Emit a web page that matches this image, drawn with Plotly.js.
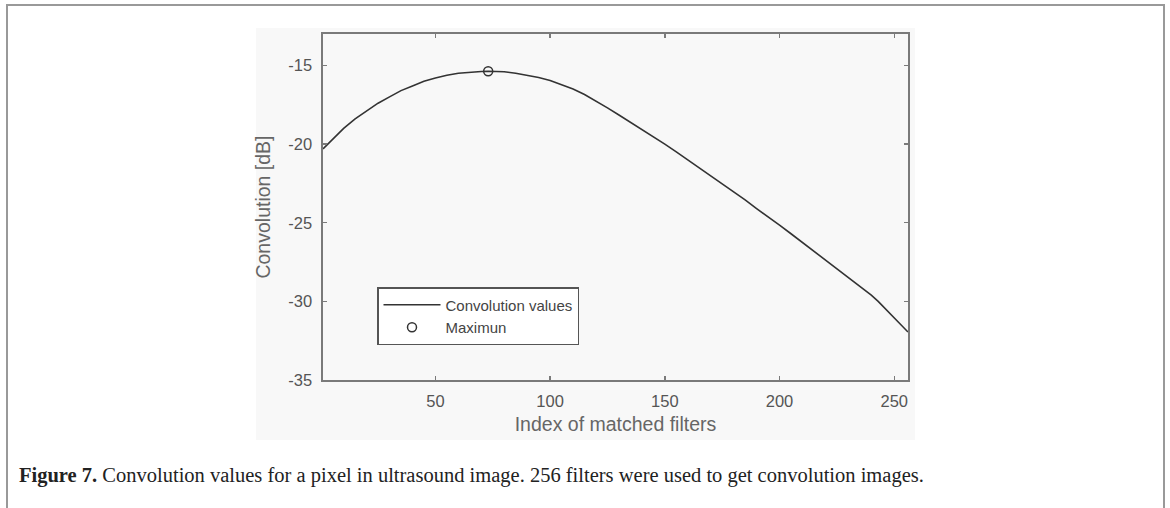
<!DOCTYPE html>
<html>
<head>
<meta charset="utf-8">
<script src="https://cdn.plot.ly/plotly-3.0.1.min.js"></script>
<style>
  html, body { margin: 0; padding: 0; background: #ffffff; }
  #chart { width: 1170px; height: 508px; }
</style>
</head>
<body>
<div id="chart"></div>
<script>
// Convolution response per matched filter (dB)
const filterIndex = [1, 5, 10, 15, 20, 25, 30, 35, 40, 45, 50, 55, 60, 65, 70, 73, 75, 80, 85, 90,
  95, 100, 105, 110, 115, 120, 125, 130, 135, 140, 145, 150, 155, 160, 165, 170, 175, 180, 185, 190,
  195, 200, 205, 210, 215, 220, 225, 230, 235, 240, 243, 245, 250, 255, 256];
const convolutionDb = [-20.3, -19.7, -19.0, -18.4, -17.9, -17.4, -17.0, -16.6, -16.3, -16.0, -15.8, -15.62, -15.5, -15.42, -15.38, -15.37, -15.37, -15.4, -15.5, -15.62,
  -15.77, -15.95, -16.2, -16.5, -16.85, -17.25, -17.7, -18.15, -18.6, -19.05, -19.5, -20.0, -20.5, -21.0, -21.5, -22.0, -22.5, -23.05, -23.55, -24.1,
  -24.6, -25.15, -25.7, -26.25, -26.8, -27.35, -27.9, -28.45, -29.0, -29.6, -30.0, -30.3, -31.05, -31.8, -31.95];

// Location of the maximum
const maxIndex = [73];
const maxValue = [-15.37];

const xTicks = [50, 100, 150, 200, 250];
const yTicks = [-35, -30, -25, -20, -15];
const xRange = [1, 256];
const yRange = [-35, -13];

const captionBold = 'Figure 7.';
const captionText = ' Convolution values for a pixel in ultrasound image. 256 filters were used to get convolution images.';

const W = 1170, H = 508;
const M = { l: 323, r: 262, t: 34, b: 128 };
const PW = W - M.l - M.r, PH = H - M.t - M.b;
// pixel -> paper coordinates helpers for the surrounding frame
const px = v => (v - M.l) / PW;
const py = v => (H - M.b - v) / PH;

const sans = 'Liberation Sans, Arial, sans-serif';

const axisCommon = {
  showgrid: false,
  zeroline: false,
  showline: true,
  linecolor: '#7a7a7a',
  linewidth: 1.6,
  mirror: 'ticks',
  ticks: 'inside',
  ticklen: 4,
  tickwidth: 1.4,
  tickcolor: '#7a7a7a',
  tickfont: { family: sans, size: 16.5, color: '#555555' }
};

const traces = [
  {
    x: filterIndex, y: convolutionDb,
    type: 'scatter', mode: 'lines',
    name: 'Convolution values',
    line: { color: '#333333', width: 1.6 }
  },
  {
    x: maxIndex, y: maxValue,
    type: 'scatter', mode: 'markers',
    name: 'Maximun',
    marker: { symbol: 'circle-open', size: 9, color: '#333333', line: { width: 1.5, color: '#333333' } }
  }
];

const layout = {
  width: W, height: H,
  margin: M,
  paper_bgcolor: '#ffffff',
  plot_bgcolor: '#ffffff',
  showlegend: true,
  legend: {
    x: px(377), y: py(287), xanchor: 'left', yanchor: 'top',
    bgcolor: '#ffffff', bordercolor: '#555555', borderwidth: 1.5,
    itemwidth: 57,
    tracegroupgap: 0,
    font: { family: sans, size: 15, color: '#444444' }
  },
  xaxis: Object.assign({}, axisCommon, {
    range: xRange, tickvals: xTicks, ticktext: xTicks.map(String),
    ticklabelstandoff: 6,
    title: { text: 'Index of matched filters', standoff: 8,
      font: { family: sans, size: 19.5, color: '#666666' } }
  }),
  yaxis: Object.assign({}, axisCommon, {
    range: yRange, tickvals: yTicks, ticktext: yTicks.map(String),
    ticklabelstandoff: 6,
    title: { text: 'Convolution [dB]', standoff: 12,
      font: { family: sans, size: 19.5, color: '#666666' } }
  }),
  shapes: [
    // light backdrop behind the plot panel
    { type: 'rect', xref: 'paper', yref: 'paper', layer: 'below',
      x0: px(256), x1: px(915), y0: py(440), y1: py(28),
      fillcolor: '#f8f8f8', line: { width: 0 } },
    // figure frame: left, top, right
    { type: 'line', xref: 'paper', yref: 'paper', x0: px(7), x1: px(7), y0: py(4), y1: py(510),
      line: { color: '#999999', width: 2 } },
    { type: 'line', xref: 'paper', yref: 'paper', x0: px(7), x1: px(1164), y0: py(5), y1: py(5),
      line: { color: '#999999', width: 2 } },
    { type: 'line', xref: 'paper', yref: 'paper', x0: px(1164), x1: px(1164), y0: py(4), y1: py(510),
      line: { color: '#999999', width: 2 } }
  ],
  annotations: [
    { xref: 'paper', yref: 'paper', x: px(17), y: py(476), xanchor: 'left', yanchor: 'middle',
      showarrow: false,
      text: '<b>' + captionBold + '</b>' + captionText,
      font: { family: 'Liberation Serif, Times New Roman, serif', size: 20.5, color: '#222222' } }
  ]
};

Plotly.newPlot('chart', traces, layout, { staticPlot: true, displayModeBar: false });
</script>
</body>
</html>
